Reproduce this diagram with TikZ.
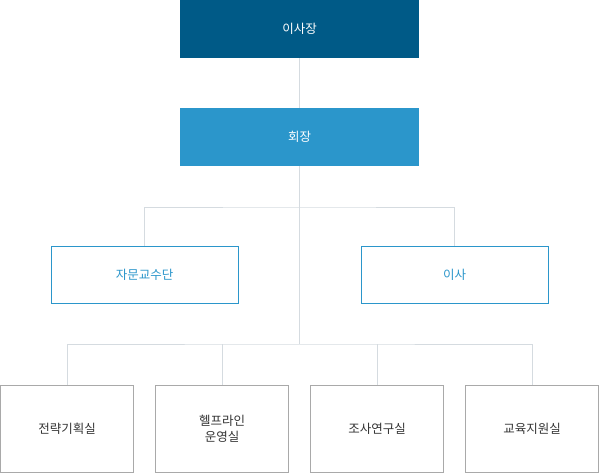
\documentclass[tikz,border=0pt]{standalone}
\usepackage{fontspec}
\setmainfont{Noto Sans CJK KR}
\usetikzlibrary{positioning}
\definecolor{orgdark}{HTML}{005A87}
\definecolor{orgblue}{HTML}{2B96CB}
\definecolor{orgline}{HTML}{D5DBE0}
\definecolor{orggray}{HTML}{A9A9A9}
\definecolor{orgtext}{HTML}{333333}
\begin{document}
\begin{tikzpicture}[
  x=1pt, y=-1pt,
  every node/.style={font=\fontsize{12.5}{16}\selectfont, align=center, inner sep=0pt},
  topbox/.style={rectangle, fill=orgdark, text=white, minimum width=239pt, minimum height=58pt},
  chairbox/.style={rectangle, fill=orgblue, text=white, minimum width=239pt, minimum height=58pt},
  midbox/.style={rectangle, draw=orgblue, fill=white, text=orgblue, minimum width=187pt, minimum height=57pt},
  lowbox/.style={rectangle, draw=orggray, fill=white, text=orgtext, minimum width=133pt, minimum height=87pt},
  link/.style={draw=orgline, line width=0.8pt},
]
\useasboundingbox (0,0) rectangle (600,473);
% links
\coordinate (j1) at (299.5,207);
\coordinate (j2) at (299.5,344);
\node[topbox] (board) at (299.5,29) {이사장};
\node[chairbox] (chair) at (299.5,137) {회장};
\node[midbox] (advis) at (144.5,274.5) {자문교수단};
\node[midbox] (direc) at (454.5,274.5) {이사};
\node[lowbox] (plan) at (67,428.5) {전략기획실};
\node[lowbox] (help) at (222,428.5) {헬프라인\\운영실};
\node[lowbox] (rsch) at (377,428.5) {조사연구실};
\node[lowbox] (edu) at (532,428.5) {교육지원실};

\draw[link] (board) -- (chair);
\draw[link] (chair) -- (j2);
\draw[link] (advis.north) |- (j1) -| (direc.north);
\draw[link] (plan.north) |- (j2) -| (edu.north);
\draw[link] (help.north) -- (help.north |- j2);
\draw[link] (rsch.north) -- (rsch.north |- j2);
\end{tikzpicture}
\end{document}
